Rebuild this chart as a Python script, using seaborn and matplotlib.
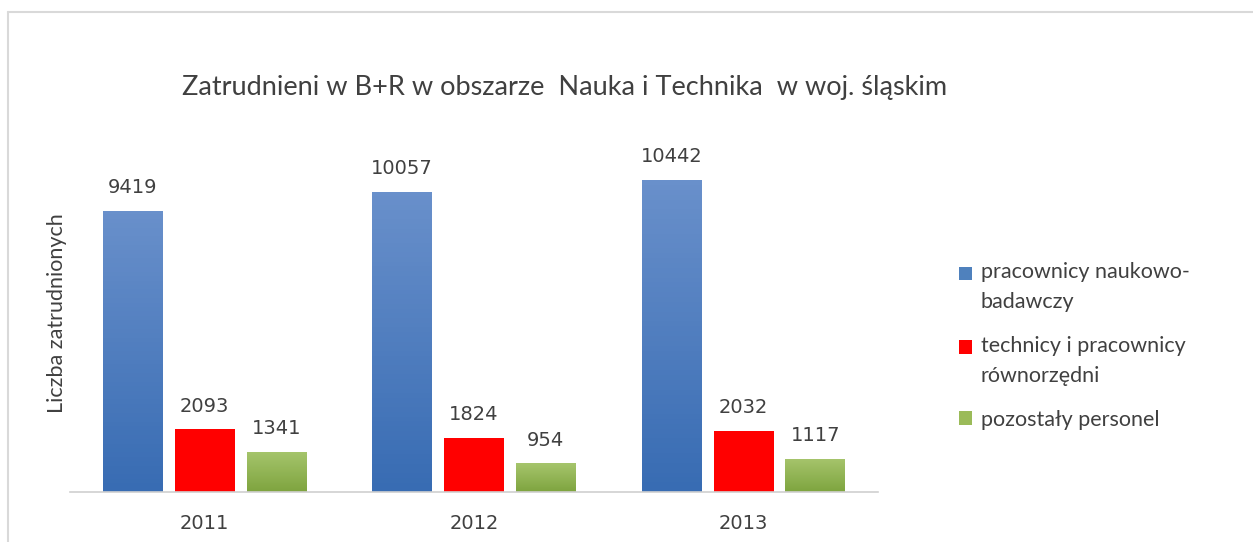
import numpy as np
import pandas as pd
import matplotlib
matplotlib.use("Agg")
import matplotlib.pyplot as plt
import seaborn as sns
from matplotlib.colors import LinearSegmentedColormap
from matplotlib.patches import Patch, Rectangle
from matplotlib.lines import Line2D
from matplotlib.legend_handler import HandlerPatch

# dane
years = ["2011", "2012", "2013"]
groups = ["pracownicy naukowo-\nbadawczy", "technicy i pracownicy\nrównorzędni", "pozostały personel"]
naukowi = [9419, 10057, 10442]
technicy = [2093, 1824, 2032]
pozostali = [1341, 954, 1117]

df = pd.DataFrame({
    "Rok": years * 3,
    "Grupa": [groups[0]] * 3 + [groups[1]] * 3 + [groups[2]] * 3,
    "Liczba": naukowi + technicy + pozostali,
})

sns.set_theme(style="white")
plt.rcParams["font.family"] = ["Lato", "DejaVu Sans"]

base = ["#4a7cc0", "#ff0000", "#92b853"]
grad = {
    0: ("#6990cb", "#386cb3"),
    1: ("#ff0000", "#ff0000"),
    2: ("#a6c56c", "#7ea43f"),
}

fig = plt.figure(figsize=(12.53, 5.42), dpi=100)
ax = fig.add_axes([70 / 1253, 50 / 542, 808 / 1253, 358.5 / 542])

sns.barplot(data=df, x="Rok", y="Liczba", hue="Grupa", hue_order=groups,
            palette=base, width=0.8, gap=0.17, ax=ax, legend=False)
ax.set_ylim(0, 12000)

# gradient w słupkach
for i, cont in enumerate(ax.containers):
    top_c, bot_c = grad[i]
    cmap = LinearSegmentedColormap.from_list("g", [bot_c, top_c])
    for bar in cont:
        x0, w, h = bar.get_x(), bar.get_width(), bar.get_height()
        img = ax.imshow(np.linspace(0, 1, 64).reshape(-1, 1), cmap=cmap, origin="lower",
                        extent=[x0, x0 + w, 0, h], aspect="auto", zorder=bar.get_zorder())
        img.set_clip_path(bar)
        bar.set_facecolor("none")
        bar.set_edgecolor("none")
    ax.bar_label(cont, labels=[f"{int(v)}" for v in cont.datavalues], padding=10,
                 fontsize=14, color="#404040", family=["DejaVu Sans"])
ax.set_xlim(-0.5, 2.5)
ax.set_ylim(0, 12000)

ax.set_yticks([])
ax.set_xlabel("")
ax.set_ylabel("Liczba zatrudnionych", fontsize=15.5, color="#404040", labelpad=2)
ax.tick_params(axis="x", labelsize=14, colors="#404040", length=0, pad=16)
for lbl in ax.get_xticklabels():
    lbl.set_family(["DejaVu Sans"])
for s in ["top", "right", "left"]:
    ax.spines[s].set_visible(False)
ax.spines["bottom"].set_color("#d0d0d0")
ax.spines["bottom"].set_linewidth(1.2)

fig.text(565 / 1253, 1 - 88 / 542, "Zatrudnieni w B+R w obszarze  Nauka i Technika  w woj. śląskim",
         ha="center", va="center", fontsize=19.5, color="#404040")

# kwadraty w legendzie przy pierwszej linii opisu
LEG_FS = 15.5
LINE_PT = 28 * 0.72  # odstęp linii w pt
shift = {}


def square(legend, orig_handle, xdescent, ydescent, width, height, fontsize):
    dy = shift.get(id(orig_handle), 0)
    return Rectangle((-xdescent, -ydescent + dy), width, height)


handles = [Patch(facecolor=c, edgecolor="none") for c in ["#4f81bd", "#ff0000", "#9bbb59"]]
for h, g in zip(handles, groups):
    shift[id(h)] = LINE_PT / 2 * g.count("\n")

leg = fig.legend(handles, groups, loc="upper left", bbox_to_anchor=(940 / 1253, 1 - 243 / 542),
                 frameon=False, fontsize=LEG_FS, handlelength=0.6, handleheight=0.6,
                 handletextpad=0.4, labelspacing=1.12, labelcolor="#404040",
                 handler_map={Patch: HandlerPatch(patch_func=square)})
for t in leg.get_texts():
    t.set_linespacing(1.6)

# ramka
fig.add_artist(Line2D([8 / 1253, 8 / 1253], [0, 1 - 12 / 542], color="#d9d9d9", lw=1.5))
fig.add_artist(Line2D([8 / 1253, 1], [1 - 12 / 542, 1 - 12 / 542], color="#d9d9d9", lw=1.5))

fig.savefig("out.png", dpi=100)
